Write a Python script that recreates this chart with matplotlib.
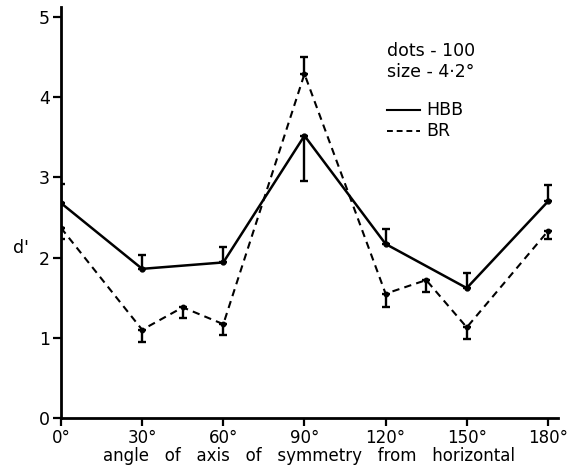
import matplotlib
matplotlib.use("Agg")
import matplotlib.pyplot as plt
from matplotlib.lines import Line2D

plt.rcParams['font.family'] = ['DejaVu Sans']

# HBB (solid)
hbb_angles = [0, 30, 60, 90, 120, 150, 180]
hbb_vals = [2.68, 1.86, 1.94, 3.52, 2.17, 1.62, 2.70]
hbb_err_lo = [0, 0, 0, 0.57, 0, 0, 0]
hbb_err_hi = [0.24, 0.17, 0.19, 0, 0.19, 0.19, 0.21]

# BR (dashed)
br_angles = [0, 30, 45, 60, 90, 120, 135, 150, 180]
br_vals = [2.37, 1.10, 1.38, 1.17, 4.29, 1.55, 1.72, 1.13, 2.33]
br_err_lo = [0.14, 0.15, 0.13, 0.14, 0, 0.17, 0.15, 0.14, 0.10]
br_err_hi = [0, 0, 0, 0, 0.21, 0, 0, 0, 0]

xticks = [0, 30, 60, 90, 120, 150, 180]
xticklabels = ['0°', '30°', '60°', '90°', '120°', '150°', '180°']
yticks = [0, 1, 2, 3, 4, 5]

fig = plt.figure(figsize=(5.67, 4.73), dpi=100)
ax = fig.add_axes([0.1076, 0.1163, 0.8764, 0.868])

ax.errorbar(hbb_angles, hbb_vals, yerr=[hbb_err_lo, hbb_err_hi], color='black',
            lw=1.8, marker='o', ms=3.5, capsize=3, elinewidth=1.7, capthick=1.7)
ax.errorbar(br_angles, br_vals, yerr=[br_err_lo, br_err_hi], color='black',
            lw=1.5, ls=(0, (3.5, 2.5)), marker='o', ms=3.2, capsize=3,
            elinewidth=1.7, capthick=1.7)

ax.set_xlim(0, 183.7)
ax.set_ylim(0, 5.12)
ax.set_xticks(xticks)
ax.set_xticklabels(xticklabels, fontsize=12)
ax.set_yticks(yticks)
ax.set_yticklabels([str(v) for v in yticks], fontsize=12.5)
for s in ['top', 'right']:
    ax.spines[s].set_visible(False)
for s in ['left', 'bottom']:
    ax.spines[s].set_linewidth(2)
ax.tick_params(direction='out', length=6, width=1.6, pad=2)

ax.set_xlabel('angle   of   axis   of   symmetry   from   horizontal', fontsize=12, labelpad=0)
ax.text(-0.08, 0.415, "d'", transform=ax.transAxes, fontsize=12.5, ha='center', va='center')

fig.text(387/567, 1-51/473, 'dots - 100', fontsize=12.5, ha='left', va='center')
fig.text(387/567, 1-72/473, 'size - 4·2°', fontsize=12.5, ha='left', va='center')
fig.lines.append(Line2D([387/567, 420/567], [1-110/473, 1-110/473], transform=fig.transFigure,
                        color='black', lw=1.5))
fig.lines.append(Line2D([387/567, 420/567], [1-131/473, 1-131/473], transform=fig.transFigure,
                        color='black', lw=1.4, ls=(0, (3, 2))))
fig.text(426/567, 1-110/473, 'HBB', fontsize=12.5, ha='left', va='center')
fig.text(426/567, 1-131/473, 'BR', fontsize=12.5, ha='left', va='center')

fig.savefig('out.png', dpi=100)
